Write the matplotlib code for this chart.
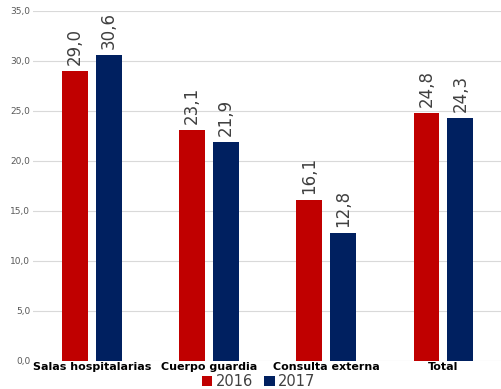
import matplotlib.pyplot as plt
import numpy as np

categories = ["Salas hospitalarias", "Cuerpo guardia", "Consulta externa", "Total"]
vals_2016 = [29.0, 23.1, 16.1, 24.8]
vals_2017 = [30.6, 21.9, 12.8, 24.3]
years = ["2016", "2017"]

red = "#C00000"
navy = "#002060"

fig = plt.figure(figsize=(5.02, 3.89), dpi=100)
ax = fig.add_axes([0.066, 0.072, 0.934, 0.900])

x = np.arange(len(categories))
w = 0.22
off = 0.145
b1 = ax.bar(x - off, vals_2016, w, color=red, label=years[0], zorder=3)
b2 = ax.bar(x + off, vals_2017, w, color=navy, label=years[1], zorder=3)

for bars in (b1, b2):
    for rect in bars:
        h = rect.get_height()
        ax.text(rect.get_x() + rect.get_width() / 2, h + 0.6,
                f"{h:.1f}".replace(".", ","), rotation=90,
                ha="center", va="bottom", fontsize=12, color="#404040")

ax.set_xlim(-0.5, len(categories) - 0.5)
ax.set_ylim(0, 35)
ax.set_yticks(np.arange(0, 35.1, 5))
ax.set_yticklabels([f"{v:.1f}".replace(".", ",") for v in np.arange(0, 35.1, 5)],
                   fontsize=6.5, color="#595959")
ax.set_xticks(x)
ax.set_xticklabels(categories, fontsize=8, fontweight="bold", color="black")
ax.tick_params(axis="both", length=0, pad=2)
ax.tick_params(axis="x", pad=1)
ax.yaxis.grid(True, color="#D9D9D9", linewidth=0.8, zorder=0)
for s in ax.spines.values():
    s.set_visible(False)

fig.legend(handles=[b1, b2], labels=years, loc="lower center",
           bbox_to_anchor=(0.515, 0.0), ncol=2, frameon=False,
           fontsize=10.5, handlelength=0.7, handleheight=0.7, handletextpad=0.2,
           columnspacing=0.8, labelcolor="#404040", borderpad=0,
           borderaxespad=0)

fig.savefig("out.png", dpi=100)
